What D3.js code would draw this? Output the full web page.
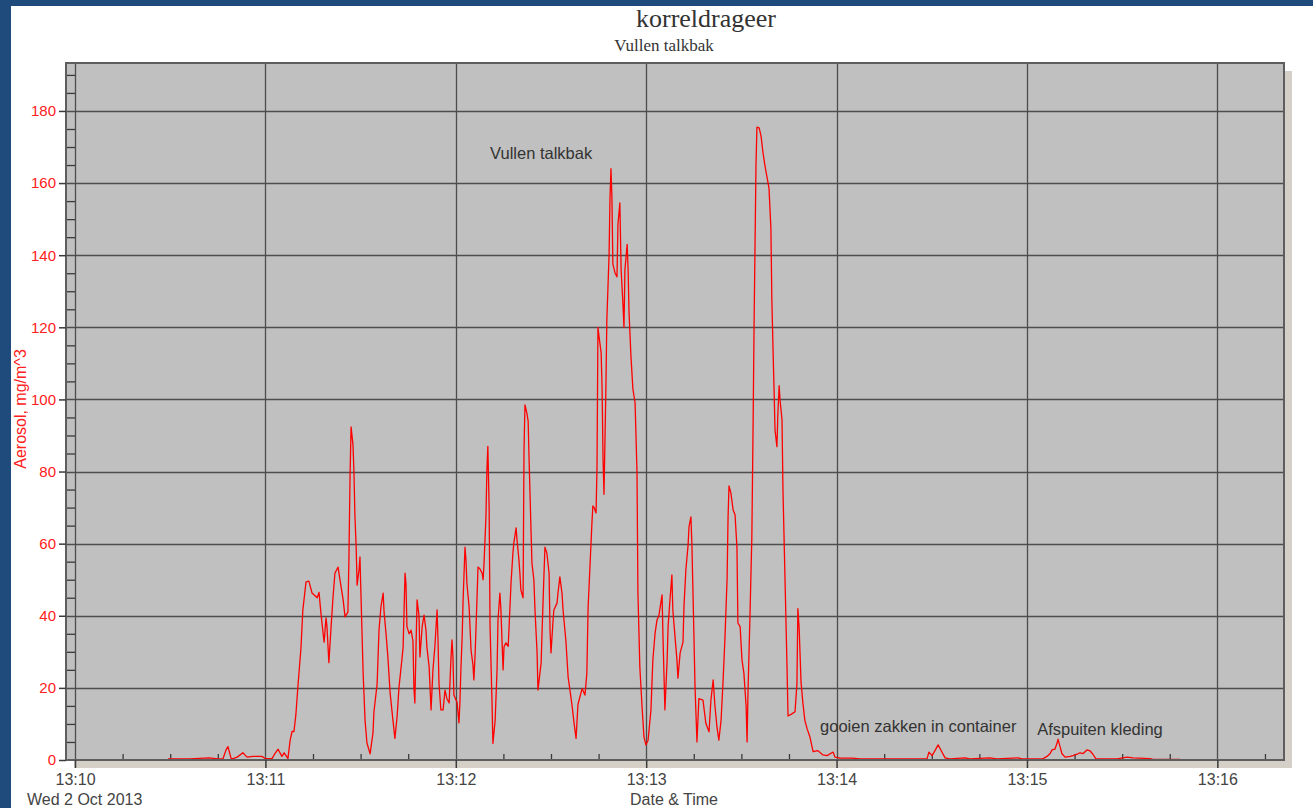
<!DOCTYPE html>
<html><head><meta charset="utf-8">
<script src="https://cdn.jsdelivr.net/npm/d3@7"></script>
<style>
html,body{margin:0;padding:0;background:#1f4a7c;overflow:hidden;}
svg{display:block;}
</style></head><body>
<svg id="chart" width="1313" height="808"></svg>
<script>
// ---- data (seconds after 13:10:00, aerosol mg/m^3) ----
const seconds = [29.3,36.2,42.2,45.1,46.6,47.6,48.2,49.2,49.8,51.1,52.9,54.2,56.1,58.9,59.9,62.1,63.0,64.0,65.2,65.9,66.8,67.1,67.8,68.4,69.0,69.6,70.3,71.2,71.8,72.8,73.7,74.7,76.3,76.9,77.5,78.2,78.5,79.1,79.4,80.0,80.7,81.3,81.9,82.9,83.5,84.5,85.1,86.0,86.3,86.7,87.0,87.6,87.9,88.2,88.6,88.9,89.5,89.8,90.1,90.8,91.4,92.0,93.0,93.9,94.2,95.2,95.8,96.4,97.1,97.4,98.0,98.6,99.3,100.2,100.8,101.5,102.1,103.0,103.4,104.0,104.3,104.6,105.3,105.9,106.5,106.8,107.1,107.5,107.8,108.4,108.7,109.4,110.0,110.6,110.9,111.6,112.2,112.5,112.8,113.4,114.1,114.4,114.7,115.3,116.0,116.6,117.2,117.9,118.5,118.8,119.1,119.4,120.1,120.4,121.0,121.3,121.6,122.0,122.3,122.9,123.2,123.5,124.2,124.5,124.8,125.4,125.7,126.1,126.7,127.0,127.6,128.3,128.6,128.9,129.5,129.8,130.1,130.5,130.8,131.4,131.7,132.4,133.0,133.3,133.9,134.2,134.9,135.2,135.8,136.5,136.8,137.4,138.0,138.3,139.0,139.3,139.9,140.2,140.5,141.2,141.5,141.8,142.4,142.8,143.1,143.7,144.0,144.6,145.0,145.6,145.9,146.9,147.2,147.8,148.1,148.7,149.4,149.7,150.0,150.6,150.9,151.9,152.2,152.8,153.5,153.8,154.7,155.4,156.6,157.3,157.9,158.5,159.8,160.7,161.3,161.7,162.3,162.9,163.2,163.6,164.2,164.5,164.8,165.1,165.8,166.1,166.4,166.7,167.3,167.6,168.3,168.6,168.9,169.2,169.5,170.2,170.8,171.1,171.7,172.1,172.7,173.0,173.3,174.0,174.3,174.6,175.2,175.8,176.5,177.1,177.4,178.0,178.7,179.3,179.9,180.6,181.5,182.1,182.8,183.4,184.0,185.0,185.3,185.9,186.6,186.9,187.5,188.1,188.4,189.1,189.7,190.0,190.7,191.6,191.9,192.5,193.2,193.5,194.1,194.4,194.8,195.4,196.0,196.6,197.9,198.8,199.8,200.4,201.1,201.7,202.3,202.9,203.6,204.2,204.8,205.5,205.8,206.1,206.7,207.4,208.0,208.6,208.9,209.6,210.2,210.8,211.5,211.8,212.1,212.7,213.3,213.7,214.0,214.3,214.6,214.9,215.6,216.2,216.8,217.4,218.1,218.7,219.3,219.6,220.0,220.3,220.6,221.2,221.5,221.9,222.2,222.8,223.1,223.7,224.4,224.7,225.9,226.9,227.5,227.8,228.2,228.8,229.4,230.0,230.7,231.6,232.6,234.1,235.7,237.0,238.9,239.5,241.1,244.9,247.4,268.5,269.1,270.1,271.0,272.0,273.2,274.2,275.7,280.5,282.0,288.3,290.5,297.2,298.4,305.0,306.3,307.3,307.9,308.8,309.5,309.8,310.4,311.0,312.0,313.6,314.5,315.8,316.7,317.7,318.9,319.9,320.8,321.7,328.4,331.5,333.4,338.8,339.7,348.2];
const aerosol = [0.3,0.3,0.6,0.3,0.3,2.8,3.7,0.4,0.4,0.8,2.0,0.8,1.0,1.0,0.4,0.4,1.8,3.0,1.0,2.0,0.8,0.4,5.5,7.9,7.9,12.5,21,31,41.6,49.4,49.6,46.3,45,46.5,40.7,35,32.7,39.4,37,27,37,45,51.8,53.5,50,44.4,39.7,41,54.6,80,92.4,87.4,80,68,59,48.5,52.7,56.3,46.3,24,11,4.7,1.7,7.5,13.3,21,36,42.4,46.3,41,35.2,28.6,18.6,11,6,12,20.2,27.7,31.3,51.8,49,37,35,36,33,20,15.8,33,44.4,40,28.6,37,40.2,36,31.3,25.8,13.9,19.4,25,31.4,41.6,33,21.3,13.9,13.9,19.4,17,15.8,28.6,33.3,28.6,18,16.6,16,10.3,16,25,34,44.4,59,55.5,49,42.4,36.6,30.5,26.4,22.2,29.7,45.2,53.5,53,51.8,50,54.6,67.4,80.4,87,70.2,37,16.6,4.6,11,25,38.8,46.3,42,25,31.4,32.5,31.5,37,49,57.4,60.2,64.4,61,55.5,51.8,47.2,45,86,98.5,96.2,94,83.2,63.8,54.6,50,40.8,30,19.4,27,36,51.8,59,57.4,51.8,36,29.7,38,41.6,43.5,46.3,50.8,46,41.6,33,23,15.4,10,6,15.4,19.8,18,24,42.4,54,65.7,70.5,70,68.5,81.3,120,117.7,113,103,83.6,73.7,103,122,140,156,164,156,137.5,135,134,148.5,154.5,136,126,120,136,143,136,124,112,103,99,80,46.3,25.8,14.7,6.4,4.2,5.5,13.9,27.7,35.2,38.8,40,45.8,34,13.9,27.7,37,44.4,51.3,41.6,34,27.7,22.7,29.7,32.7,42.4,52.7,59.6,64.7,67.4,60,44.4,20,5,17,16.6,10.2,7.8,16.6,22.2,14.7,9.2,5.5,11,21.4,33.3,50.4,67.4,76,74,69.3,68,59,38,37,27.7,24,14.7,5,19.4,39.7,61.9,93.9,120.7,142.8,165,175.5,175.3,173,168.5,165,161.5,158.6,147.5,127.7,113,102.6,91.5,86.9,96,103.8,99.7,94.4,75.2,52,25,12.2,12.8,13.4,21,42,36.7,21.6,15.7,11,8.7,6.4,2.3,2.6,1.4,1.2,2.2,0.8,0.5,0.5,0.3,0.3,2.2,1.2,2.6,4.2,2.2,0.6,0.3,0.6,0.3,0.6,0.3,0.6,0.3,0.3,1.0,1.8,2.8,3.0,4.7,5.8,3.8,1.8,0.8,1.0,1.2,1.6,2.0,1.8,2.8,2.5,1.6,0.3,0.3,0.8,0.6,0.4,0.2,0.2];
const xTickSeconds = [0,60,120,180,240,300,360];
const xTickLabels = ["13:10","13:11","13:12","13:13","13:14","13:15","13:16"];
const yTicks = [0,20,40,60,80,100,120,140,160,180];
const titleText = "korreldrageer";
const subtitleText = "Vullen talkbak";
const dateLabel = "Wed 2 Oct 2013";
const xAxisTitle = "Date & Time";
const yAxisTitle = "Aerosol, mg/m^3";
const noteTexts = ["Vullen talkbak","gooien zakken in container","Afspuiten kleding"];
const noteSeconds = [130.8, 234.8, 303.2];
const noteValues = [166.7, 7.8, 6.9];

// ---- drawing ----
const svg = d3.select("#chart");
svg.append("rect").attr("x",11).attr("y",6).attr("width",1302).attr("height",802).attr("fill","#ffffff");

const L=66, R=1284, T=63, B=760;
const x = d3.scaleLinear().domain([-2.84, 381.0]).range([L,R]);
const y = d3.scaleLinear().domain([0,193.3]).range([B,T]);

// shadow
svg.append("rect").attr("x",L+8).attr("y",T+8).attr("width",R-L).attr("height",B-T).attr("fill","#d4d0c8");
// plot bg
svg.append("rect").attr("x",L).attr("y",T).attr("width",R-L).attr("height",B-T).attr("fill","#c0c0c0");

const gridColor = "#4d4d4d";
// horizontal grid
svg.append("g").selectAll("line").data(yTicks.filter(d=>d>0)).join("line")
  .attr("x1",L).attr("x2",R).attr("y1",d=>Math.round(y(d))+0.5).attr("y2",d=>Math.round(y(d))+0.5)
  .attr("stroke",gridColor).attr("stroke-width",1.3);
// vertical grid
svg.append("g").selectAll("line").data(xTickSeconds).join("line")
  .attr("y1",T).attr("y2",B).attr("x1",d=>Math.round(x(d))+0.5).attr("x2",d=>Math.round(x(d))+0.5)
  .attr("stroke",gridColor).attr("stroke-width",1.3);

// minor x ticks (every 15 s)
const minorX = d3.range(0, 381, 15).filter(d=>d%60!==0);
svg.append("g").attr("transform",`translate(0,${B})`)
  .call(d3.axisBottom(x).tickValues(minorX).tickSize(-6).tickSizeOuter(0).tickFormat(""))
  .call(g=>g.select(".domain").remove())
  .call(g=>g.selectAll("line").attr("stroke","#3a3a3a").attr("stroke-width",1.3));
// minor y ticks (every 5)
const minorY = d3.range(5, 193, 5).filter(d=>d%20!==0);
svg.append("g").attr("transform",`translate(${L},0)`)
  .call(d3.axisLeft(y).tickValues(minorY).tickSize(-9).tickSizeOuter(0).tickFormat(""))
  .call(g=>g.select(".domain").remove())
  .call(g=>g.selectAll("line").attr("stroke","#3a3a3a").attr("stroke-width",1.3));

// data line
const line = d3.line().x((d,i)=>x(seconds[i])).y(d=>y(d));
svg.append("path").datum(aerosol).attr("d",line)
  .attr("fill","none").attr("stroke","#ff0000").attr("stroke-width",1.3).attr("stroke-linejoin","round");

// frame
svg.append("rect").attr("x",L).attr("y",T).attr("width",R-L).attr("height",B-T)
  .attr("fill","none").attr("stroke","#5e5e5e").attr("stroke-width",2);

// major x axis
svg.append("g").attr("transform",`translate(0,${B})`)
  .call(d3.axisBottom(x).tickValues(xTickSeconds).tickSize(8).tickSizeOuter(0)
    .tickFormat((d,i)=>xTickLabels[i]))
  .call(g=>g.select(".domain").remove())
  .call(g=>g.selectAll("line").attr("stroke","#3a3a3a").attr("stroke-width",1.5))
  .call(g=>g.selectAll("text").attr("y",25).attr("dy",0)
    .attr("font-family","Liberation Sans, Arial, sans-serif").attr("font-size",16).attr("fill","#444"));

// major y axis
svg.append("g").attr("transform",`translate(${L},0)`)
  .call(d3.axisLeft(y).tickValues(yTicks).tickSize(7).tickPadding(3).tickSizeOuter(0))
  .call(g=>g.select(".domain").remove())
  .call(g=>g.selectAll("line").attr("stroke","#3a3a3a").attr("stroke-width",1.5))
  .call(g=>g.selectAll("text").attr("font-family","Liberation Sans, Arial, sans-serif")
    .attr("font-size",15).attr("fill","#ff2020"));

// titles
svg.append("text").attr("x",706).attr("y",27).attr("text-anchor","middle")
  .attr("font-family","Liberation Serif, Times New Roman, serif").attr("font-size",26).attr("fill","#333")
  .text(titleText);
svg.append("text").attr("x",664).attr("y",51).attr("text-anchor","middle")
  .attr("font-family","Liberation Serif, Times New Roman, serif").attr("font-size",17).attr("fill","#333")
  .text(subtitleText);
svg.append("text").attr("x",27).attr("y",805)
  .attr("font-family","Liberation Sans, Arial, sans-serif").attr("font-size",16).attr("fill","#444")
  .text(dateLabel);
svg.append("text").attr("x",674).attr("y",805).attr("text-anchor","middle")
  .attr("font-family","Liberation Sans, Arial, sans-serif").attr("font-size",16).attr("fill","#444")
  .text(xAxisTitle);
svg.append("text").attr("transform","translate(26,409) rotate(-90)").attr("text-anchor","middle")
  .attr("font-family","Liberation Sans, Arial, sans-serif").attr("font-size",16).attr("fill","#ff2020")
  .text(yAxisTitle);

// annotations
svg.append("g").selectAll("text").data(noteTexts).join("text")
  .attr("x",(d,i)=>x(noteSeconds[i])).attr("y",(d,i)=>y(noteValues[i]))
  .attr("font-family","Liberation Sans, Arial, sans-serif").attr("font-size",16.5).attr("fill","#333")
  .text(d=>d);
</script>
</body></html>
